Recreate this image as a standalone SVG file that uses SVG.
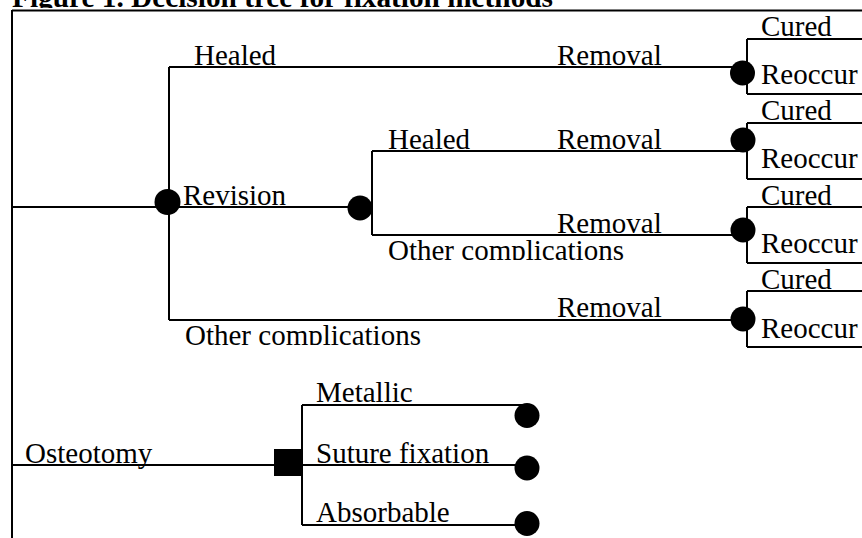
<svg xmlns="http://www.w3.org/2000/svg" width="862" height="538" viewBox="0 0 862 538">
<style>
.ln{stroke:#000;stroke-width:2;fill:none}
.t{font-family:"Liberation Serif","Times New Roman",serif;font-size:29px;fill:#000}
.title{font-weight:bold}
.dot{fill:#000}
</style>
<defs>
<clipPath id="cTitle"><rect x="0" y="-40" width="862" height="48"/></clipPath>
<clipPath id="cOC1"><rect x="380" y="225" width="300" height="35"/></clipPath>
<clipPath id="cOC2"><rect x="180" y="310" width="300" height="35"/></clipPath>
</defs>
<rect width="862" height="538" fill="#fff"/>
<text class="t title" x="12" y="7" clip-path="url(#cTitle)" textLength="541" lengthAdjust="spacingAndGlyphs">Figure 1. Decision tree for fixation methods</text>

<g id="connectors">
<path class="ln" d="M12,10.5 H862 M12,10 V538"/>
<path class="ln" d="M12,207 H360 M360,207 H372"/>
<path class="ln" d="M169,67 V320 M169,67 H742 M169,320 H742"/>
<path class="ln" d="M372,151 V235 M372,151 H742 M372,235 H742"/>
<path class="ln" d="M747,39 V94 M747,39 H862 M747,94 H862"/>
<path class="ln" d="M747,123 V179 M747,123 H862 M747,179 H862"/>
<path class="ln" d="M747,207 V263 M747,207 H862 M747,263 H862"/>
<path class="ln" d="M747,291 V347 M747,291 H862 M747,347 H862"/>
<path class="ln" d="M12,465 H288 M302,405 V525 M302,405 H527 M302,465 H527 M302,525 H527"/>
</g>

<g id="labels">
<text class="t" x="194" y="65">Healed</text>
<text class="t" x="557" y="65">Removal</text>
<text class="t" x="183" y="205">Revision</text>
<text class="t" x="388" y="149">Healed</text>
<text class="t" x="557" y="149">Removal</text>
<text class="t" x="557" y="233">Removal</text>
<text class="t" x="388" y="259.5" clip-path="url(#cOC1)">Other complications</text>
<text class="t" x="557" y="317">Removal</text>
<text class="t" x="185" y="344.5" clip-path="url(#cOC2)">Other complications</text>
<text class="t" x="25" y="463">Osteotomy</text>
<text class="t" x="316" y="402">Metallic</text>
<text class="t" x="316" y="463">Suture fixation</text>
<text class="t" x="316" y="522">Absorbable</text>
</g>

<g id="node-root-chance"><circle class="dot" cx="167.5" cy="202" r="13"/></g>
<g id="node-revision-chance"><circle class="dot" cx="360" cy="208" r="12.5"/></g>

<g id="node-outcome1"><circle class="dot" cx="742.5" cy="73" r="12.5"/>
<text class="t" x="761" y="36">Cured</text><text class="t" x="761" y="84">Reoccur</text></g>
<g id="node-outcome2"><circle class="dot" cx="743" cy="140" r="12.5"/>
<text class="t" x="761" y="120">Cured</text><text class="t" x="761" y="168">Reoccur</text></g>
<g id="node-outcome3"><circle class="dot" cx="743" cy="230" r="12.5"/>
<text class="t" x="761" y="205">Cured</text><text class="t" x="761" y="253">Reoccur</text></g>
<g id="node-outcome4"><circle class="dot" cx="743" cy="319" r="12.5"/>
<text class="t" x="761" y="289">Cured</text><text class="t" x="761" y="338">Reoccur</text></g>

<g id="node-decision"><rect class="dot" x="274" y="449" width="28" height="27"/></g>
<g id="node-metallic"><circle class="dot" cx="527" cy="415.5" r="12.5"/></g>
<g id="node-suture"><circle class="dot" cx="527" cy="468" r="12.5"/></g>
<g id="node-absorbable"><circle class="dot" cx="527" cy="523.5" r="12.5"/></g>
</svg>
